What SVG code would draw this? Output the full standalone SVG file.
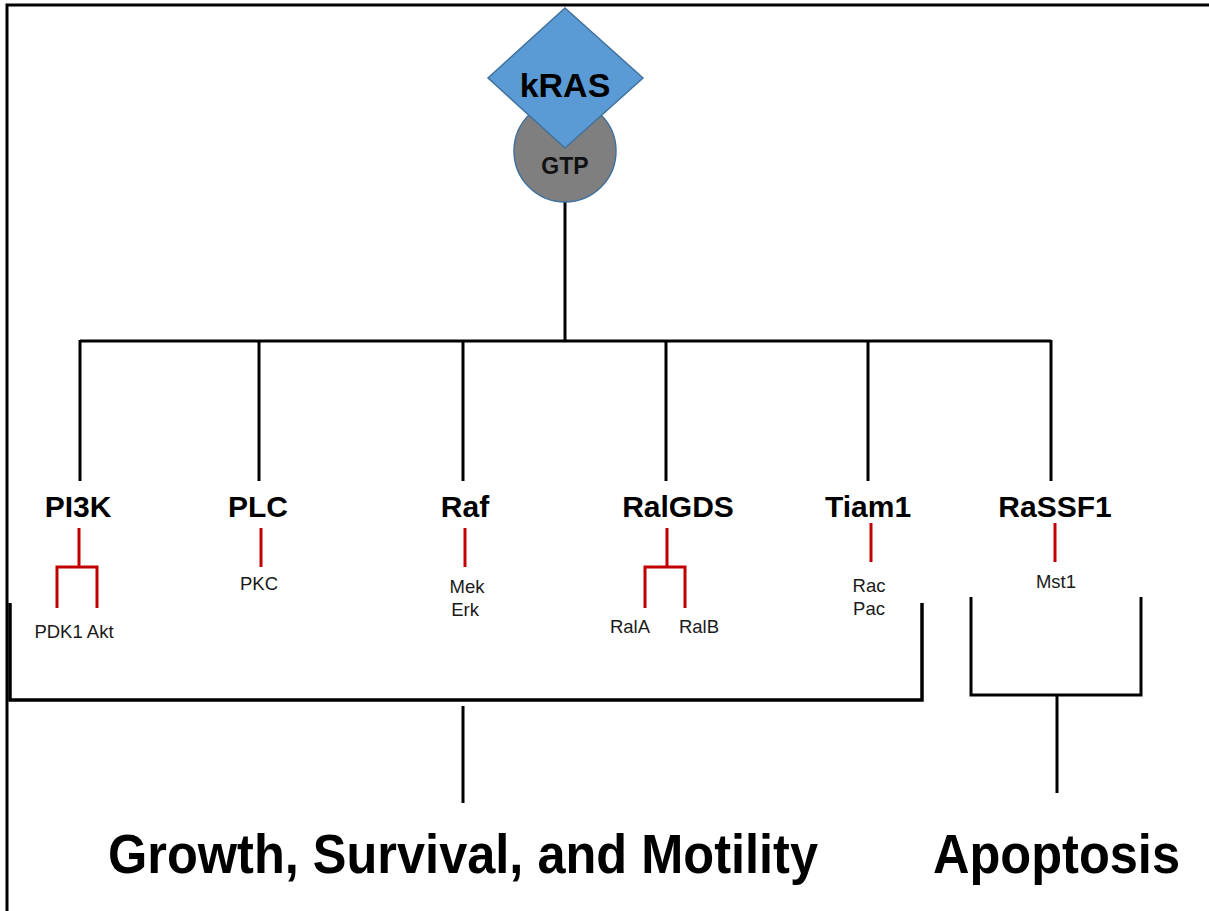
<svg xmlns="http://www.w3.org/2000/svg" width="1209" height="911" viewBox="0 0 1209 911">
<style>
.blk{stroke:#000;stroke-width:3;fill:none}
.red{stroke:#c00000;stroke-width:3;fill:none}
.lbl{font-family:"Liberation Sans",Arial,sans-serif;font-weight:bold;font-size:30px;text-anchor:middle;fill:#000}
.sm{font-family:"Liberation Sans",Arial,sans-serif;font-size:18.5px;text-anchor:middle;fill:#1a1a1a}
.big{font-family:"Liberation Sans",Arial,sans-serif;font-weight:bold;font-size:55px;fill:#000}
</style>
<rect width="1209" height="911" fill="#fff"/>
<path class="blk" d="M7,911 V5 H1209"/>
<g id="connectors">
<path class="blk" d="M565,202 V341 M80,341 H1051 M80,340 V481 M259,340 V481 M463,340 V481 M666,340 V481 M868,340 V481 M1051,340 V481"/>
<path class="red" d="M79,528 V567 M57,608 V567 H97 V608"/>
<path class="red" d="M261,528 V567"/>
<path class="red" d="M465,528 V567"/>
<path class="red" d="M667,528 V567 M645,608 V567 H685 V608"/>
<path class="red" d="M871,523 V562"/>
<path class="red" d="M1055,523 V562"/>
<path class="blk" d="M10,603 V700 H922 V603" style="stroke-width:3.5"/>
<path class="blk" d="M463,706 V803"/>
<path class="blk" d="M971,597 V695 H1141 V597"/>
<path class="blk" d="M1057,695 V793"/>
</g>
<g id="gtp">
<circle cx="565" cy="151" r="51" fill="#7f7f7f" stroke="#41719c" stroke-width="1.5"/>
<text x="565" y="174" style="font-family:'Liberation Sans',Arial,sans-serif;font-weight:bold;font-size:23px;text-anchor:middle;fill:#111">GTP</text>
</g>
<g id="kras">
<polygon points="565,8 643,78 565,148 488,78" fill="#5b9bd5" stroke="#41719c" stroke-width="1.5"/>
<text x="565" y="97" style="font-family:'Liberation Sans',Arial,sans-serif;font-weight:bold;font-size:34px;text-anchor:middle;fill:#000">kRAS</text>
</g>
<g id="pi3k"><text class="lbl" x="78" y="517">PI3K</text><text class="sm" x="74" y="638">PDK1 Akt</text></g>
<g id="plc"><text class="lbl" x="258" y="517">PLC</text><text class="sm" x="259" y="590">PKC</text></g>
<g id="raf"><text class="lbl" x="465" y="517">Raf</text><text class="sm" x="467" y="593">Mek</text><text class="sm" x="465" y="616">Erk</text></g>
<g id="ralgds"><text class="lbl" x="678" y="517">RalGDS</text><text class="sm" x="630" y="633">RalA</text><text class="sm" x="699" y="633">RalB</text></g>
<g id="tiam1"><text class="lbl" x="868" y="517">Tiam1</text><text class="sm" x="869" y="592">Rac</text><text class="sm" x="869" y="615">Pac</text></g>
<g id="rassf1"><text class="lbl" x="1055" y="517">RaSSF1</text><text class="sm" x="1056" y="588">Mst1</text></g>
<g id="growth"><text class="big" x="108" y="873" textLength="710" lengthAdjust="spacingAndGlyphs">Growth, Survival, and Motility</text></g>
<g id="apoptosis"><text class="big" x="933" y="873" textLength="247" lengthAdjust="spacingAndGlyphs">Apoptosis</text></g>
</svg>
